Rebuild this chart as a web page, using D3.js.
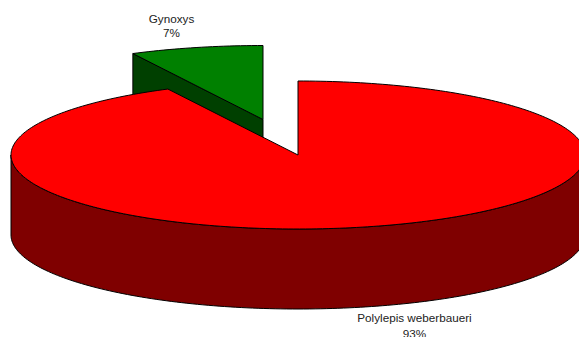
<!DOCTYPE html>
<html>
<head>
<meta charset="utf-8">
<style>
  html, body { margin: 0; padding: 0; background: #fff; overflow: hidden; }
  svg { display: block; }
  text { font-family: "Liberation Sans", Arial, sans-serif; font-size: 11.7px; fill: #222; text-anchor: middle; }
</style>
</head>
<body>
<div id="chart"></div>
<script src="https://d3js.org/d3.v7.min.js"></script>
<script>
'use strict';

var categories = ['Polylepis weberbaueri', 'Gynoxys'];
var values = [92.51, 7.49];
var topColors = ['#ff0000', '#008000'];
var sideColors = ['#7f0000', '#004000'];

var width = 579, height = 337,
  center = { x: 298, y: 155 },
  rx = 287, ry = 74, depth = 80,
  explode = [{ x: 0, y: 0 }, { x: -35, y: -35.5 }],
  labelPos = [{ x: 414.5, y: 322 }, { x: 171.5, y: 22.5 }];

var svg = d3.select('#chart').append('svg')
  .attr('width', width)
  .attr('height', height);

// unit circle -> flattened screen ellipse
var x = d3.scaleLinear().domain([-1, 1]).range([center.x - rx, center.x + rx]);
var y = d3.scaleLinear().domain([-1, 1]).range([center.y - ry, center.y + ry]);

var pie = d3.pie().sort(null)(values);
var line = d3.line();
var format = d3.format('.0f');

function rim(a0, a1, off, drop) {
  var n = Math.max(2, Math.ceil((a1 - a0) / 0.02)), pts = [];
  for (var i = 0; i <= n; i++) {
    var a = a0 + (a1 - a0) * i / n;
    pts.push([x(Math.sin(a)) + off.x, y(-Math.cos(a)) + off.y + drop]);
  }
  return pts;
}

function draw(i) {
  var d = pie[i], off = explode[i];
  var apex = [x(0) + off.x, y(0) + off.y];
  var g = svg.append('g')
    .attr('stroke', '#000')
    .attr('stroke-width', 1)
    .attr('stroke-linejoin', 'round');

  // cut face on the slice's closing edge, only seen on the small slice
  if (i === 1) {
    var edge = rim(d.startAngle, d.startAngle, off, 0)[0];
    g.append('path')
      .attr('fill', sideColors[i])
      .attr('d', line([edge, apex, [apex[0], apex[1] + depth], [edge[0], edge[1] + depth]]) + 'Z');
  }

  // outer wall, front half of the rim
  var a0 = Math.max(d.startAngle, Math.PI / 2), a1 = Math.min(d.endAngle, Math.PI * 1.5);
  if (a1 > a0) {
    var front = rim(a0, a1, off, 0);
    var bottom = rim(a0, a1, off, depth).reverse();
    g.append('path')
      .attr('fill', sideColors[i])
      .attr('d', line(front.concat(bottom)) + 'Z');
  }

  g.append('path')
    .attr('fill', topColors[i])
    .attr('d', line([apex].concat(rim(d.startAngle, d.endAngle, off, 0))) + 'Z');

  var label = svg.append('text')
    .attr('x', labelPos[i].x)
    .attr('y', labelPos[i].y);
  label.append('tspan').attr('x', labelPos[i].x).text(categories[i]);
  label.append('tspan').attr('x', labelPos[i].x).attr('dy', i === 0 ? 16 : 14.5).text(format(values[i]) + '%');
}

// small slice sits behind the big one
draw(1);
draw(0);
</script>
</body>
</html>
